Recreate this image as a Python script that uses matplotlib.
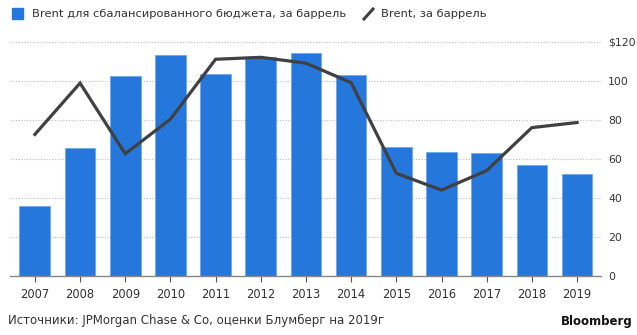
import matplotlib
matplotlib.use("Agg")
import matplotlib.pyplot as plt
from matplotlib.patches import Rectangle
from matplotlib.lines import Line2D

years = ["2007", "2008", "2009", "2010", "2011", "2012", "2013",
         "2014", "2015", "2016", "2017", "2018", "2019"]
breakeven = [36, 65.5, 102.5, 113, 103.5, 112, 114, 103, 66, 63.5, 63, 57, 52.3]
brent = [72.5, 98.8, 62.6, 80.3, 111, 112, 109, 99, 52.6, 44, 54, 76, 78.6]
yticks = [0, 20, 40, 60, 80, 100, 120]
ytick_labels = ["0", "20", "40", "60", "80", "100", "$120"]

bar_color = "#2677db"
line_color = "#404040"
text_color = "#333333"

plt.rcParams['font.family'] = ['DejaVu Sans']

fig = plt.figure(figsize=(6.37, 3.35), dpi=100)
ax = fig.add_axes([10/637, 1 - 276/335, (601-10)/637, (276-41.7)/335])

x = list(range(len(years)))
ax.bar(x, breakeven, width=0.68, color=bar_color, edgecolor="#6fa6ea",
       linewidth=0.6, zorder=2)
ax.plot(x, brent, color=line_color, linewidth=2.3, zorder=3,
        solid_joinstyle="miter")

ax.set_xlim(-0.55, 12.53)
ax.set_ylim(0, 120)
ax.set_yticks(yticks)
ax.set_yticklabels(ytick_labels)
ax.yaxis.tick_right()
ax.tick_params(axis="y", length=0, pad=5, labelsize=7.8, labelcolor=text_color)
ax.set_xticks(x)
ax.set_xticklabels(years)
ax.tick_params(axis="x", length=4, width=0.8, color="#555555", pad=5,
               labelsize=8.3, labelcolor=text_color)
ax.grid(axis="y", color="#bbbbbb", linestyle=(0, (1, 1.5)), linewidth=0.8, zorder=0)
for s in ["top", "left", "right"]:
    ax.spines[s].set_visible(False)
ax.spines["bottom"].set_color("#888888")
ax.spines["bottom"].set_linewidth(1.0)
ax.spines["bottom"].set_zorder(4)

# legend
fig.patches.append(Rectangle((12/637, 1 - 19/335), 11/637, 11/335,
                             transform=fig.transFigure, color=bar_color))
fig.text(32/637, 1 - 14/335, "Brent для сбалансированного бюджета, за баррель",
         fontsize=8.25, color=text_color, va="center", ha="left")
fig.lines.append(Line2D([364/637, 373/637], [1 - 19/335, 1 - 9/335],
                        transform=fig.transFigure, color=line_color, linewidth=2.2))
fig.text(381/637, 1 - 14/335, "Brent, за баррель",
         fontsize=8.25, color=text_color, va="center", ha="left")

fig.text(8/637, 1 - 320/335, "Источники: JPMorgan Chase & Co, оценки Блумберг на 2019г",
         fontsize=8.5, color=text_color, va="center", ha="left")
fig.text(633/637, 1 - 321/335, "Bloomberg", fontsize=8.5, fontweight="bold",
         color="#111111", va="center", ha="right")

fig.savefig("out.png", dpi=100)
